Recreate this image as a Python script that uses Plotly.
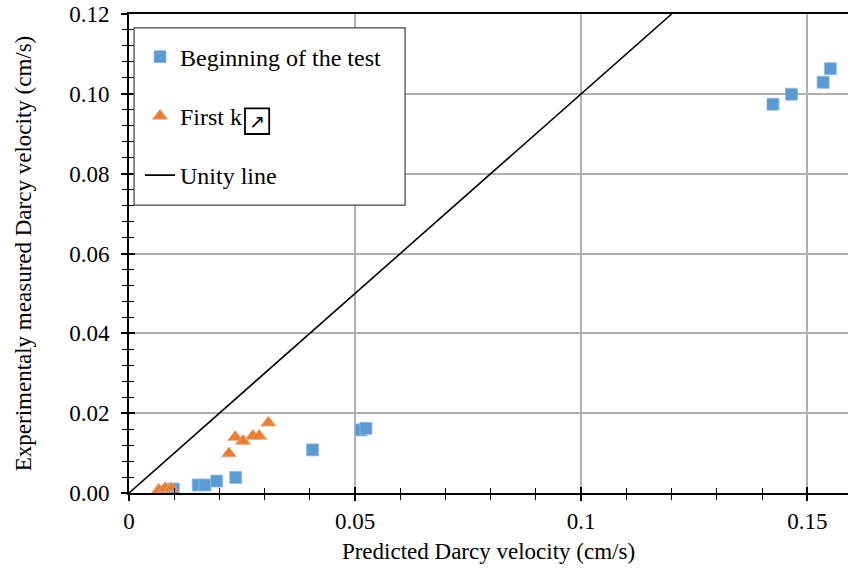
import plotly.graph_objects as go

# Predicted vs. measured Darcy velocity (cm/s)
begin_pred = [0.0085, 0.0098, 0.0153, 0.0168, 0.0194, 0.0236, 0.0406,
              0.0513, 0.0524, 0.1424, 0.1465, 0.1535, 0.1551]
begin_meas = [0.0005, 0.0010, 0.0020, 0.0020, 0.0030, 0.0039, 0.0108,
              0.0158, 0.0162, 0.0974, 0.0999, 0.1029, 0.1063]

firstk_pred = [0.0066, 0.0080, 0.0093, 0.0221, 0.0235, 0.0252, 0.0274,
               0.0288, 0.0308]
firstk_meas = [0.0008, 0.0012, 0.0012, 0.0099, 0.0140, 0.0130, 0.0143,
               0.0143, 0.0176]

unity_x = [0.0, 0.12]
unity_y = [0.0, 0.12]

x_range = [0, 0.159]
y_range = [0, 0.12]

FONT = "Liberation Serif"
FS = 23
BLUE = "#5B9BD5"
ORANGE = "#ED7D31"
GRID = "#b0b0b0"

fig = go.Figure()

fig.add_trace(go.Scatter(
    x=begin_pred, y=begin_meas, mode="markers", name="Beginning of the test",
    legendgroup="a",
    marker=dict(symbol="square", size=12, color=BLUE,
                line=dict(width=0.8, color="#8fbbe3")),
))
fig.add_trace(go.Scatter(
    x=firstk_pred, y=firstk_meas, mode="markers", name="First k",
    legendgroup="b",
    marker=dict(symbol="triangle-up", size=13, color=ORANGE,
                line=dict(width=0.8, color="#f2a272")),
))
fig.add_trace(go.Scatter(
    x=unity_x, y=unity_y, mode="lines", name="Unity line", legendgroup="c",
    line=dict(color="black", width=1.6),
))

# invisible helpers so the inner half of each tick gets drawn
fig.add_trace(go.Scatter(x=[None], y=[None], xaxis="x2", yaxis="y",
                         showlegend=False, hoverinfo="skip"))
fig.add_trace(go.Scatter(x=[None], y=[None], xaxis="x", yaxis="y2",
                         showlegend=False, hoverinfo="skip"))

common_x = dict(range=x_range, dtick=0.05, tick0=0)
common_y = dict(range=y_range, dtick=0.02, tick0=0)

# white legend panel and the boxed arrow glyph after "First k"
fig.add_shape(type="rect", xref="paper", yref="paper",
              x0=0.007, x1=0.384, y0=0.601, y1=0.971, layer="above",
              fillcolor="white", line=dict(color="#404040", width=1.2))
fig.add_shape(type="rect", xref="paper", yref="paper",
              x0=0.1613, x1=0.1950, y0=0.7495, y1=0.8030, layer="above",
              fillcolor="rgba(0,0,0,0)", line=dict(color="black", width=1.8))
fig.add_annotation(xref="paper", yref="paper", x=0.1782, y=0.7773,
                   text="\u2197", showarrow=False,
                   xanchor="center", yanchor="middle",
                   font=dict(family="DejaVu Sans", size=19, color="black"))

fig.update_layout(
    width=848, height=571,
    margin=dict(l=129, r=0, t=14, b=78),
    paper_bgcolor="white", plot_bgcolor="white",
    font=dict(family=FONT, size=FS, color="black"),
    showlegend=True,
    legend=dict(
        x=0.0153, y=0.957, xanchor="left", yanchor="top",
        bgcolor="rgba(0,0,0,0)", borderwidth=0,
        font=dict(family=FONT, size=24, color="black"),
        tracegroupgap=25, itemwidth=30,
    ),
    xaxis=dict(
        **common_x,
        showgrid=True, gridcolor=GRID, gridwidth=1.6,
        zeroline=False, showline=True, linecolor="black", linewidth=2,
        mirror=True,
        ticks="outside", ticklen=6, tickwidth=1.5, tickcolor="black",
        minor=dict(dtick=0.01, ticks="outside", ticklen=5, tickwidth=1.3,
                   tickcolor="black", showgrid=False),
        ticklabelstandoff=0,
        tickfont=dict(family=FONT, size=FS),
        title=dict(text="Predicted Darcy velocity (cm/s)",
                   font=dict(family=FONT, size=FS), standoff=10),
    ),
    xaxis2=dict(
        **common_x, overlaying="x", anchor="y", side="bottom",
        showgrid=False, zeroline=False, showline=False,
        showticklabels=False,
        ticks="inside", ticklen=6, tickwidth=1.5, tickcolor="black",
        minor=dict(dtick=0.01, ticks="inside", ticklen=5, tickwidth=1.3,
                   tickcolor="black", showgrid=False),
    ),
    yaxis=dict(
        **common_y, tickformat=".2f",
        showgrid=True, gridcolor=GRID, gridwidth=1.6,
        zeroline=False, showline=True, linecolor="black", linewidth=2,
        ticks="outside", ticklen=6, tickwidth=1.5, tickcolor="black",
        minor=dict(dtick=0.004, ticks="outside", ticklen=5, tickwidth=1.3,
                   tickcolor="black", showgrid=False),
        ticklabelstandoff=7,
        tickfont=dict(family=FONT, size=FS),
        title=dict(text="Experimentaly measured Darcy velocity (cm/s)",
                   font=dict(family=FONT, size=FS), standoff=31),
    ),
    yaxis2=dict(
        **common_y, overlaying="y", anchor="x", side="left",
        showgrid=False, zeroline=False, showline=False,
        showticklabels=False,
        ticks="inside", ticklen=6, tickwidth=1.5, tickcolor="black",
        minor=dict(dtick=0.004, ticks="inside", ticklen=5, tickwidth=1.3,
                   tickcolor="black", showgrid=False),
    ),
)

fig.write_html("out.html")
